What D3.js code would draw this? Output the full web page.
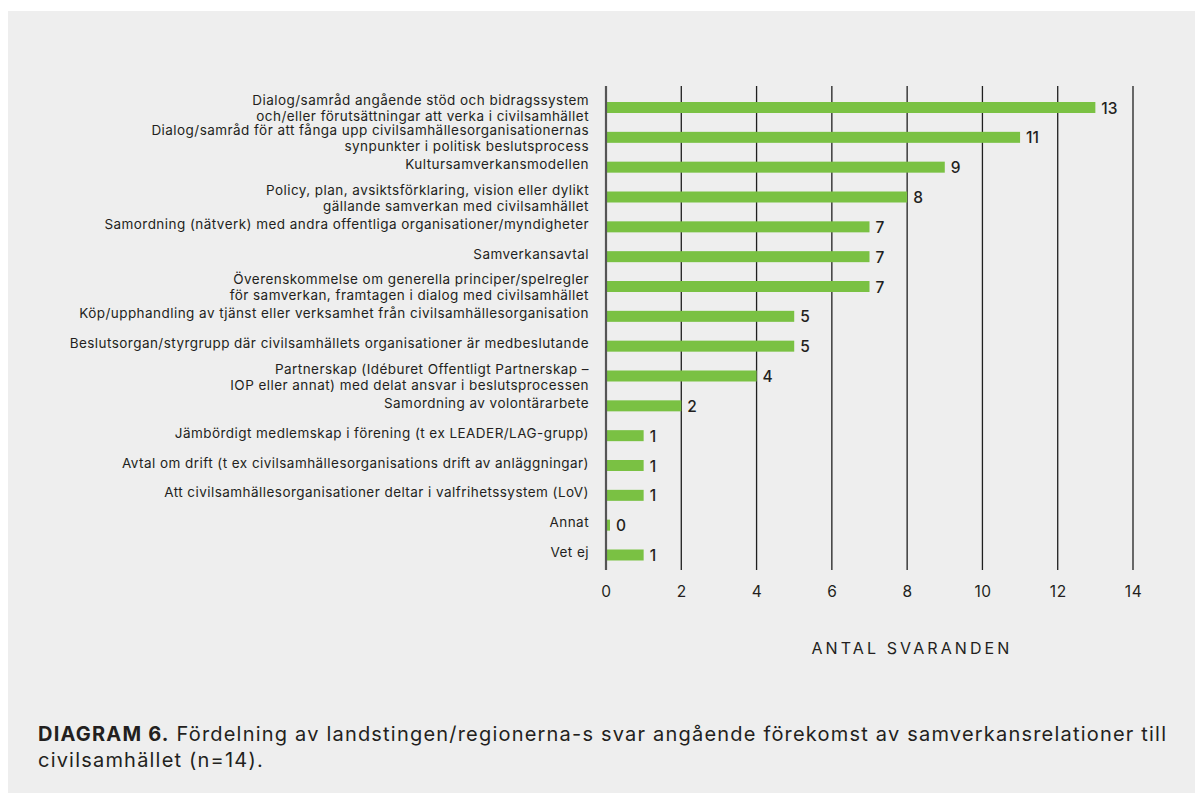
<!DOCTYPE html>
<html>
<head>
<meta charset="utf-8">
<script src="https://cdn.jsdelivr.net/npm/d3@7"></script>
<style>
  body { margin: 0; background: #ffffff; }
  svg text { font-family: "Inter", "Noto Sans", sans-serif; fill: #231f20; }
</style>
</head>
<body>
<div id="chart"></div>
<script>
width = 1195
height = 793

// data
let categories = [
    "Dialog/samråd angående stöd och bidragssystem\noch/eller förutsättningar att verka i civilsamhället",
    "Dialog/samråd för att fånga upp civilsamhällesorganisationernas\nsynpunkter i politisk beslutsprocess",
    "Kultursamverkansmodellen",
    "Policy, plan, avsiktsförklaring, vision eller dylikt\ngällande samverkan med civilsamhället",
    "Samordning (nätverk) med andra offentliga organisationer/myndigheter",
    "Samverkansavtal",
    "Överenskommelse om generella principer/spelregler\nför samverkan, framtagen i dialog med civilsamhället",
    "Köp/upphandling av tjänst eller verksamhet från civilsamhällesorganisation",
    "Beslutsorgan/styrgrupp där civilsamhällets organisationer är medbeslutande",
    "Partnerskap (Idéburet Offentligt Partnerskap –\nIOP eller annat) med delat ansvar i beslutsprocessen",
    "Samordning av volontärarbete",
    "Jämbördigt medlemskap i förening (t ex LEADER/LAG-grupp)",
    "Avtal om drift (t ex civilsamhällesorganisations drift av anläggningar)",
    "Att civilsamhällesorganisationer deltar i valfrihetssystem (LoV)",
    "Annat",
    "Vet ej"
]
let values = [13, 11, 9, 8, 7, 7, 7, 5, 5, 4, 2, 1, 1, 1, 0, 1]
let xTicks = [0, 2, 4, 6, 8, 10, 12, 14]
let axisTitle = "ANTAL SVARANDEN"
let captionBold = "DIAGRAM 6."
let captionLines = [
    " Fördelning av landstingen/regionerna-s svar angående förekomst av samverkansrelationer till",
    "civilsamhället (n=14)."
]

let data = categories.map((c, i) => ({ name: c, value: values[i] }))

let svg = d3.select("#chart")
    .append("svg")
    .attr("width", width)
    .attr("height", height)

// grey panel
svg.append("rect")
    .attr("x", 8)
    .attr("y", 11)
    .attr("width", width - 8)
    .attr("height", height - 11)
    .attr("fill", "#eeeeee")

let x = d3.scaleLinear()
    .domain([0, 14])
    .range([606, 1133])

let y = d3.scalePoint()
    .domain(categories)
    .range([107.5, 555])

let barHeight = 11

// gridlines
svg.append("g")
    .selectAll("line")
    .data(xTicks.filter(t => t > 0))
    .join("line")
    .attr("x1", d => x(d))
    .attr("x2", d => x(d))
    .attr("y1", 86)
    .attr("y2", 570)
    .attr("stroke", "#1f1f1f")
    .attr("stroke-width", 1.3)

// bars
svg.append("g")
    .selectAll("rect")
    .data(data)
    .join("rect")
    .attr("x", x(0))
    .attr("y", d => y(d.name) - barHeight / 2)
    .attr("width", d => Math.max(x(d.value) - x(0), 4))
    .attr("height", barHeight)
    .attr("fill", "#7ac143")

// zero axis line
svg.append("line")
    .attr("x1", x(0))
    .attr("x2", x(0))
    .attr("y1", 86)
    .attr("y2", 570)
    .attr("stroke", "#555555")
    .attr("stroke-width", 2.2)

// value labels
svg.append("g")
    .selectAll("text")
    .data(data)
    .join("text")
    .attr("x", d => x(0) + Math.max(x(d.value) - x(0), 4) + 6)
    .attr("y", d => y(d.name) + 6)
    .style("font-size", "15.5px")
    .style("font-weight", 500)
    .text(d => d.value)

// category labels
let labels = svg.append("g")
    .selectAll("text")
    .data(data)
    .join("text")
    .attr("text-anchor", "end")
    .style("font-size", "13.5px")
    .style("letter-spacing", "0.45px")

labels.each(function (d) {
    let lines = d.name.split("\n")
    let base = lines.length == 1 ? y(d.name) + 2 : y(d.name) - 2.5
    d3.select(this).selectAll("tspan")
        .data(lines)
        .join("tspan")
        .attr("x", 589)
        .attr("y", (l, i) => base + i * 16)
        .text(l => l)
})

// x axis tick labels
let xAxis = d3.axisBottom(x)
    .tickValues(xTicks)
    .tickSize(0)
    .tickPadding(0)

let axisG = svg.append("g")
    .attr("transform", "translate(0,586)")
    .call(xAxis)

axisG.select(".domain").remove()
axisG.selectAll("text")
    .style("font-size", "15.5px")
    .style("font-family", "Inter, sans-serif")
    .style("letter-spacing", "0.5px")
    .attr("fill", "#231f20")

svg.append("text")
    .attr("x", 912)
    .attr("y", 654)
    .attr("text-anchor", "middle")
    .style("font-size", "16px")
    .style("letter-spacing", "3.1px")
    .text(axisTitle)

// caption
let cap = svg.append("text")
    .attr("x", 38)
    .attr("y", 741)
    .style("font-size", "20px")
    .style("letter-spacing", "1.2px")

cap.append("tspan")
    .style("font-weight", "bold")
    .text(captionBold)
cap.append("tspan")
    .text(captionLines[0])

svg.append("text")
    .attr("x", 38)
    .attr("y", 767)
    .style("font-size", "20px")
    .style("letter-spacing", "1.2px")
    .text(captionLines[1])
</script>
</body>
</html>
